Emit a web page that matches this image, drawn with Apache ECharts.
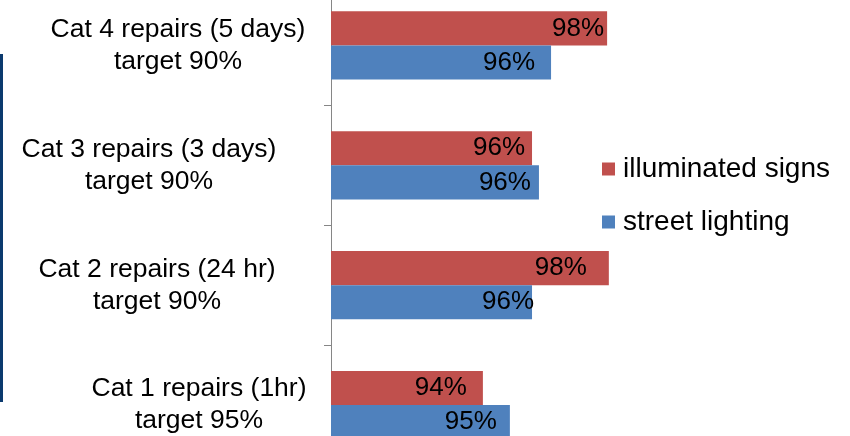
<!DOCTYPE html>
<html>
<head>
<meta charset="utf-8">
<title>Repairs completed within target</title>
<script src="https://cdn.jsdelivr.net/npm/echarts@6/dist/echarts.min.js"></script>
<style>
  html, body { margin: 0; padding: 0; background: #fff; }
  #chart { width: 850px; height: 436px; }
</style>
</head>
<body>
<div id="chart"></div>
<script>
// Categories, bottom to top
const categories = [
  'Cat 1 repairs (1hr)\ntarget 95%',
  'Cat 2 repairs (24 hr)\ntarget 90%',
  'Cat 3 repairs (3 days)\ntarget 90%',
  'Cat 4 repairs (5 days)\ntarget 90%'
];
// Share of repairs completed within target
const illuminatedSigns = [0.9439, 0.9803, 0.9581, 0.9798];
const streetLighting = [0.9517, 0.9581, 0.9601, 0.9636];

// Label inset from the bar end, px
const signsLabelInset = [16, 22, 7, 3];
const streetLabelInset = [13, -2, 8, 16];
// Width of the box each category label is centred in, px
const labelBoxWidth = [244, 328, 344, 286];

const FONT = '"Liberation Sans", Arial, sans-serif';
const RED = '#C0504D';
const BLUE = '#4F81BD';

const pct = v => Math.round(v * 100) + '%';

function barData(values, insets) {
  return values.map((v, i) => ({
    value: v,
    label: { distance: insets[i] }
  }));
}

const rich = {};
labelBoxWidth.forEach((w, i) => {
  rich['c' + i] = {
    width: w,
    align: 'center',
    fontSize: 26.5,
    lineHeight: 32,
    fontFamily: FONT,
    color: '#000'
  };
});

const barLabel = {
  show: true,
  position: 'insideRight',
  color: '#000',
  fontFamily: FONT,
  fontSize: 26,
  formatter: p => pct(p.value)
};

const chart = echarts.init(document.getElementById('chart'), null, { renderer: 'canvas' });

chart.setOption({
  animation: false,
  backgroundColor: '#fff',
  grid: {
    left: 331, right: 173, top: -14.5, bottom: -29,
    containLabel: false,
    outerBoundsMode: 'none'
  },
  legend: {
    orient: 'vertical',
    left: 602,
    top: 155,
    padding: 0,
    itemWidth: 13,
    itemHeight: 13,
    itemGap: 25,
    icon: 'rect',
    data: ['illuminated signs', 'street lighting'],
    textStyle: {
      fontFamily: FONT,
      fontSize: 28,
      lineHeight: 28,
      color: '#000',
      padding: [0, 0, 0, 3]
    }
  },
  xAxis: {
    type: 'value',
    min: 0.9,
    max: 1.0,
    show: false,
    splitLine: { show: false }
  },
  yAxis: {
    type: 'category',
    data: categories,
    axisLine: { show: true, lineStyle: { color: '#868686', width: 1 } },
    axisTick: { show: true, length: 7, inside: false, lineStyle: { color: '#868686' } },
    axisLabel: {
      margin: 10,
      align: 'right',
      formatter: (value, index) => '{c' + index + '|' + value + '}',
      rich: rich
    },
    splitLine: { show: false }
  },
  series: [
    {
      name: 'illuminated signs',
      type: 'bar',
      data: barData(illuminatedSigns, signsLabelInset),
      itemStyle: { color: RED },
      barGap: '0%',
      barCategoryGap: '43%',
      label: barLabel
    },
    {
      name: 'street lighting',
      type: 'bar',
      data: barData(streetLighting, streetLabelInset),
      itemStyle: { color: BLUE },
      barGap: '0%',
      barCategoryGap: '43%',
      label: barLabel
    }
  ],
  graphic: [
    {
      type: 'rect',
      left: 0,
      top: 54,
      shape: { width: 3, height: 348 },
      style: { fill: '#0B3A6E' },
      silent: true
    }
  ]
});
</script>
</body>
</html>
